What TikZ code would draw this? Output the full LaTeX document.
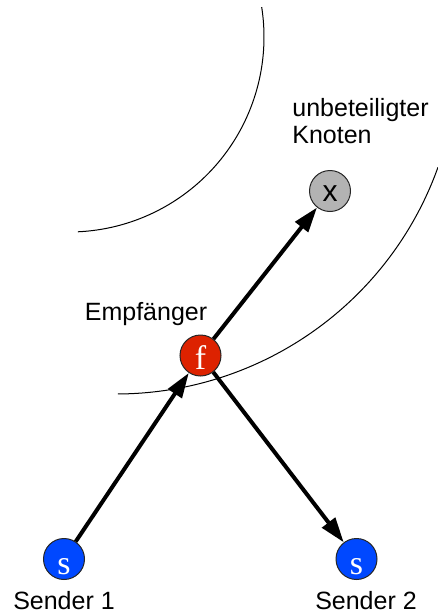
\documentclass[tikz,border=0pt]{standalone}
\usepackage{fontspec}
\setmainfont{Liberation Sans}
\newfontfamily\nodeserif{Liberation Serif}
\usetikzlibrary{arrows.meta}
\definecolor{senderblue}{RGB}{0,72,255}
\definecolor{empfred}{RGB}{221,34,0}
\definecolor{knotengray}{RGB}{179,179,179}

\begin{document}
\begin{tikzpicture}[x=0.5pt,y=-0.5pt,
    station/.style={circle,draw=black!85,line width=0.5pt,minimum size=20.5pt,inner sep=0pt},
    funk/.style={line width=2pt,-{Triangle[length=12.5pt,width=8pt]}},
    lbl/.style={inner sep=0pt,font=\fontsize{12.5}{13.5}\selectfont}]
  \useasboundingbox (0,0) rectangle (438,616);
  % reichweiten
  \draw[line width=0.5pt] (69,37) ++(-8.8:195) arc[start angle=-8.8,end angle=87.4,radius=195];
  \draw[line width=0.5pt] (116,52) ++(19.7:342) arc[start angle=19.7,end angle=89.7,radius=342];
  % stationen
  \node[station,fill=senderblue,text=white,font=\nodeserif\fontsize{17}{17}\selectfont,text height=16pt] (sender1) at (64,559) {s};
  \node[station,fill=senderblue,text=white,font=\nodeserif\fontsize{17}{17}\selectfont,text height=16pt] (sender2) at (356.5,559) {s};
  \node[station,fill=empfred,text=white,font=\nodeserif\fontsize{17}{17}\selectfont,text height=13.5pt] (empf) at (200.5,355.5) {f};
  \node[station,fill=knotengray,font=\fontsize{15}{15}\selectfont,text height=10.6pt] (knoten) at (330,191) {x};
  \draw[funk] (sender1) -- (empf);
  \draw[funk] (empf) -- (knoten);
  \draw[funk] (empf) -- (sender2);
  % beschriftung
  \node[lbl,anchor=base] (lsender1) at (64,609) {Sender 1};
  \node[lbl,anchor=base] (lsender2) at (366,609) {Sender 2};
  \node[lbl,anchor=base] (lempf) at (146,320) {Empfänger};
  \node[lbl,anchor=north west,align=left] (lknoten) at (292,98) {unbeteiligter\\Knoten};
\end{tikzpicture}
\end{document}
